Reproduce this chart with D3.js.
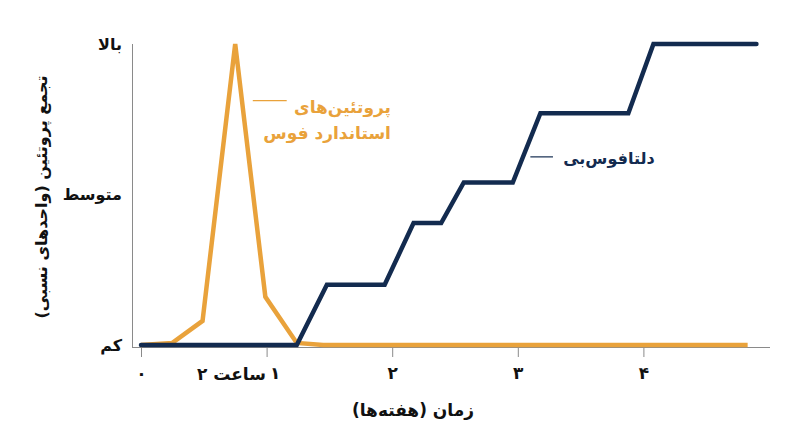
<!DOCTYPE html>
<html lang="fa">
<head>
<meta charset="utf-8">
<script src="https://cdn.jsdelivr.net/npm/d3@7"></script>
<style>
  body { margin: 0; background: #fff; }
  text { font-family: "DejaVu Sans", sans-serif; font-weight: bold; }
</style>
</head>
<body>
<svg id="chart" width="800" height="447"></svg>
<script>
// data (x in weeks, y in relative units 0..1)
let fosX = [0, 0.25, 0.49, 0.75, 0.99, 1.24, 1.45, 4.83];
let fosY = [0, 0.007, 0.08, 1, 0.16, 0.007, 0, 0];

let deltaX = [0, 1.24, 1.48, 1.94, 2.17, 2.39, 2.57, 2.96, 3.18, 3.88, 4.08, 4.9];
let deltaY = [0, 0, 0.2, 0.2, 0.405, 0.405, 0.54, 0.54, 0.77, 0.77, 1, 1];

let xTicks = [0, 1, 2, 3, 4];
let xTickLabels = ['۰', '۱', '۲', '۳', '۴'];
let yTicks = [0, 0.5, 1];
let yTickLabels = ['کم', 'متوسط', 'بالا'];

let orange = '#E9A23B';
let navy = '#132B4F';

let svg = d3.select('#chart');

let x = d3.scaleLinear().domain([0, 5]).range([141, 769]);
let y = d3.scaleLinear().domain([0, 1]).range([345, 44]);

// axes
let xAxis = svg.append('g')
  .attr('transform', 'translate(0, 347)')
  .call(d3.axisBottom(x)
    .tickValues(xTicks)
    .tickSize(10)
    .tickPadding(10)
    .tickFormat((d, i) => xTickLabels[i]));
xAxis.select('.domain').attr('d', 'M132,0.5H770').attr('stroke', '#8a8a8a');
xAxis.selectAll('.tick line').attr('stroke', '#8a8a8a');
xAxis.selectAll('.tick text')
  .attr('font-size', 17)
  .attr('fill', '#111')
  .attr('dx', (d) => d === 1 ? 8 : 0);

// extra "2 hours" label under the first week
svg.append('text')
  .attr('x', x(0.72))
  .attr('y', 380)
  .attr('text-anchor', 'middle')
  .attr('direction', 'rtl')
  .attr('font-size', 17)
  .attr('fill', '#111')
  .text('ساعت ۲');

let yAxis = svg.append('g')
  .attr('transform', 'translate(132, 0)')
  .call(d3.axisLeft(y)
    .tickValues(yTicks)
    .tickSize(0)
    .tickPadding(10)
    .tickFormat((d, i) => yTickLabels[i]));
yAxis.select('.domain').attr('d', 'M0.5,44V347').attr('stroke', '#8a8a8a');
yAxis.selectAll('.tick text')
  .attr('font-size', 16)
  .attr('fill', '#111');

// titles
svg.append('text')
  .attr('transform', 'translate(42, 197) rotate(-90)')
  .attr('text-anchor', 'middle')
  .attr('dominant-baseline', 'middle')
  .attr('direction', 'rtl')
  .attr('font-size', 16)
  .attr('fill', '#111')
  .text('تجمع پروتئین (واحدهای نسبی)');

svg.append('text')
  .attr('x', 413)
  .attr('y', 416)
  .attr('text-anchor', 'middle')
  .attr('direction', 'rtl')
  .attr('font-size', 17)
  .attr('fill', '#111')
  .text('زمان (هفته‌ها)');

// lines
let line = d3.line()
  .x((d) => x(d[0]))
  .y((d) => y(d[1]));

svg.append('path')
  .datum(fosX.map((v, i) => [v, fosY[i]]))
  .attr('d', line)
  .attr('fill', 'none')
  .attr('stroke', orange)
  .attr('stroke-width', 4.5)
  .attr('stroke-linejoin', 'miter');

svg.append('path')
  .datum(deltaX.map((v, i) => [v, deltaY[i]]))
  .attr('d', line)
  .attr('fill', 'none')
  .attr('stroke', navy)
  .attr('stroke-width', 4.5)
  .attr('stroke-linecap', 'round');

// labels with leader lines
svg.append('line')
  .attr('x1', x(0.89)).attr('x2', x(1.16))
  .attr('y1', y(0.812)).attr('y2', y(0.812))
  .attr('stroke', orange)
  .attr('stroke-width', 1.2);

let fosLabel = svg.append('text')
  .attr('text-anchor', 'start')
  .attr('direction', 'rtl')
  .attr('font-size', 17)
  .attr('fill', orange);
fosLabel.append('tspan')
  .attr('x', x(1.99)).attr('y', y(0.77))
  .text('پروتئین‌های');
fosLabel.append('tspan')
  .attr('x', x(1.99)).attr('y', y(0.685))
  .text('استاندارد فوس');

svg.append('line')
  .attr('x1', x(3.1)).attr('x2', x(3.28))
  .attr('y1', y(0.625)).attr('y2', y(0.625))
  .attr('stroke', navy)
  .attr('stroke-width', 1.2);

svg.append('text')
  .attr('x', x(4.09))
  .attr('y', y(0.6))
  .attr('text-anchor', 'start')
  .attr('direction', 'rtl')
  .attr('font-size', 16)
  .attr('fill', navy)
  .text('دلتافوس‌بی');
</script>
</body>
</html>
